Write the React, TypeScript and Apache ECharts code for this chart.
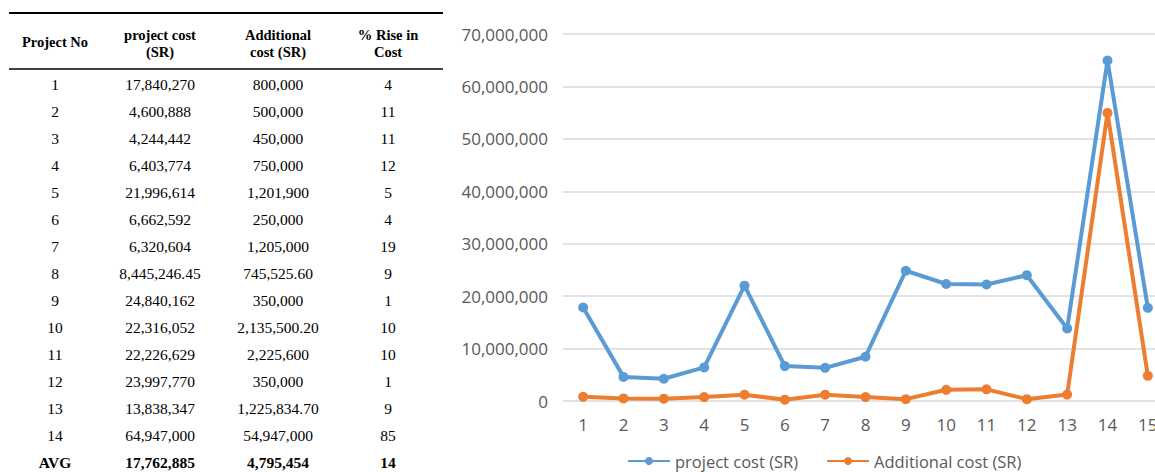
import React, { useEffect, useRef } from "react";
import * as echarts from "echarts";

const categories = ["1", "2", "3", "4", "5", "6", "7", "8", "9", "10", "11", "12", "13", "14", "15"];
const projectNos = ["1", "2", "3", "4", "5", "6", "7", "8", "9", "10", "11", "12", "13", "14"];
const projectCost = [17840270, 4600888, 4244442, 6403774, 21996614, 6662592, 6320604, 8445246.45, 24840162, 22316052, 22226629, 23997770, 13838347, 64947000];
const additionalCost = [800000, 500000, 450000, 750000, 1201900, 250000, 1205000, 745525.6, 350000, 2135500.2, 2225600, 350000, 1225834.7, 54947000];
const riseInCost = [4, 11, 11, 12, 5, 4, 19, 9, 1, 10, 10, 1, 9, 85];
const avgLabel = "AVG";
const avgProjectCost = 17762885;
const avgAdditionalCost = 4795454;
const avgRise = 14;
const headers = [["Project No"], ["project cost", "(SR)"], ["Additional", "cost (SR)"], ["% Rise in", "Cost"]];
const seriesNames = ["project cost (SR)", "Additional cost (SR)"];
const yMin = 0;
const yMax = 70000000;
const yStep = 10000000;

const fmt = (v: number) =>
  Number.isInteger(v)
    ? v.toLocaleString("en-US")
    : v.toLocaleString("en-US", { minimumFractionDigits: 2, maximumFractionDigits: 2 });

export default function App() {
  const ref = useRef<HTMLDivElement>(null);
  useEffect(() => {
    if (!ref.current) return;
    const chart = echarts.init(ref.current, null, { renderer: "svg" });
    const colX = [55, 160, 278, 388];
    const serif = "Liberation Serif, Times New Roman, serif";
    const graphics: any[] = [];
    graphics.push({ type: "line", shape: { x1: 9, y1: 13, x2: 443, y2: 13 }, style: { stroke: "#000", lineWidth: 2 } });
    graphics.push({ type: "line", shape: { x1: 9, y1: 69, x2: 443, y2: 69 }, style: { stroke: "#000", lineWidth: 1.5 } });
    headers.forEach((h, c) => {
      const ys = h.length === 1 ? [42] : [35, 52];
      h.forEach((t, k) => {
        graphics.push({
          type: "text",
          x: colX[c],
          y: ys[k],
          style: { text: t, align: "center", verticalAlign: "middle", font: `bold 14.5px ${serif}`, fill: "#000" },
        });
      });
    });
    const rows: { cells: string[]; bold: boolean }[] = projectNos.map((p, i) => ({
      cells: [p, fmt(projectCost[i]), fmt(additionalCost[i]), String(riseInCost[i])],
      bold: false,
    }));
    rows.push({ cells: [avgLabel, fmt(avgProjectCost), fmt(avgAdditionalCost), String(avgRise)], bold: true });
    rows.forEach((r, i) => {
      r.cells.forEach((t, c) => {
        graphics.push({
          type: "text",
          x: colX[c],
          y: 84 + 27 * i,
          style: {
            text: t,
            align: "center",
            verticalAlign: "middle",
            font: `${r.bold ? "bold " : ""}15.5px ${serif}`,
            fill: "#000",
          },
        });
      });
    });

    const sans = "Open Sans, Noto Sans, sans-serif";
    chart.setOption({
      animation: false,
      backgroundColor: "#fff",
      graphic: graphics,
      grid: { left: 563, right: 2, top: 34, bottom: 71, containLabel: false },
      legend: {
        left: 627,
        top: 452,
        padding: 0,
        itemWidth: 42,
        itemHeight: 10,
        itemGap: 28,
        textStyle: { color: "#595959", fontSize: 16.5, lineHeight: 18, fontFamily: sans },
        data: seriesNames,
      },
      xAxis: {
        type: "category",
        data: categories,
        boundaryGap: true,
        axisLine: { show: false },
        axisTick: { show: false },
        axisLabel: { color: "#595959", fontSize: 17, fontFamily: sans, margin: 15 },
      },
      yAxis: {
        type: "value",
        min: yMin,
        max: yMax,
        interval: yStep,
        axisLine: { show: false },
        axisTick: { show: false },
        splitLine: { lineStyle: { color: "#d9d9d9", width: 1.5 } },
        axisLabel: {
          color: "#595959",
          fontSize: 17,
          fontFamily: sans,
          margin: 15,
          formatter: (v: number) => v.toLocaleString("en-US"),
        },
      },
      series: [
        {
          name: seriesNames[0],
          type: "line",
          data: [...projectCost, avgProjectCost],
          symbol: "circle",
          symbolSize: 10,
          color: "#5B9BD5",
          lineStyle: { width: 4, color: "#5B9BD5" },
          itemStyle: { color: "#5B9BD5" },
        },
        {
          name: seriesNames[1],
          type: "line",
          data: [...additionalCost, avgAdditionalCost],
          symbol: "circle",
          symbolSize: 10,
          color: "#ED7D31",
          lineStyle: { width: 4, color: "#ED7D31" },
          itemStyle: { color: "#ED7D31" },
        },
      ],
    });
    return () => chart.dispose();
  }, []);
  return (
    <div style={{ position: "absolute", left: 0, top: 0, width: 1155, height: 472, overflow: "hidden" }}>
      <div ref={ref} style={{ width: 1170, height: 472 }} />
    </div>
  );
}
